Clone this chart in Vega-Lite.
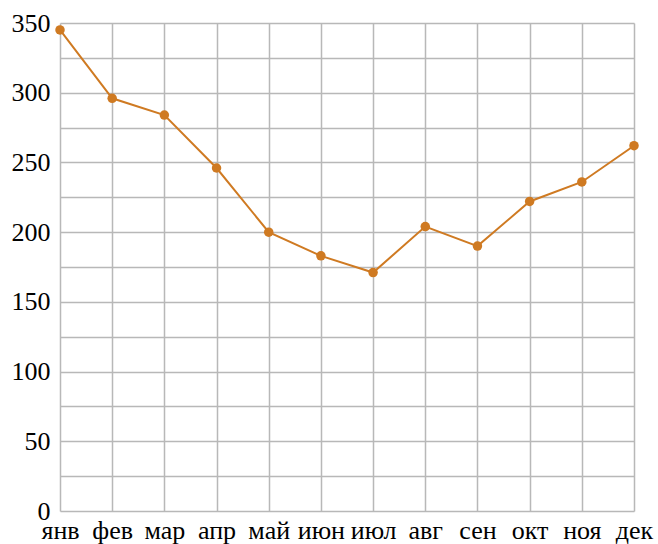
{
  "$schema": "https://vega.github.io/schema/vega-lite/v6.json",
  "autosize": {"type": "none"},
  "padding": {"left": 60, "top": 23, "right": 24, "bottom": 33},
  "width": 574,
  "height": 488,
  "background": "white",
  "config": {
    "view": {"stroke": null},
    "axis": {
      "labelFont": "Liberation Serif",
      "labelFontSize": 26,
      "labelColor": "#000000",
      "gridColor": "#b8b8b8",
      "gridWidth": 1.5,
      "gridOpacity": 1,
      "domain": false,
      "ticks": false,
      "title": null
    }
  },
  "data": {
    "values": [
      {"month": "янв", "value": 345},
      {"month": "фев", "value": 296},
      {"month": "мар", "value": 284},
      {"month": "апр", "value": 246},
      {"month": "май", "value": 200},
      {"month": "июн", "value": 183},
      {"month": "июл", "value": 171},
      {"month": "авг", "value": 204},
      {"month": "сен", "value": 190},
      {"month": "окт", "value": 222},
      {"month": "ноя", "value": 236},
      {"month": "дек", "value": 262}
    ]
  },
  "encoding": {
    "x": {
      "field": "month",
      "type": "ordinal",
      "sort": null,
      "scale": {"type": "point", "padding": 0},
      "axis": {"grid": true, "labelAngle": 0, "labelPadding": 6, "labelBaseline": "top", "labelFont": "Liberation Serif", "labelFontSize": 26}
    },
    "y": {
      "field": "value",
      "type": "quantitative",
      "scale": {"domain": [0, 350], "nice": false, "zero": true},
      "axis": {
        "grid": true,
        "values": [0, 25, 50, 75, 100, 125, 150, 175, 200, 225, 250, 275, 300, 325, 350],
        "labelExpr": "datum.value % 50 == 0 ? datum.label : ''",
        "labelPadding": 10,
        "labelFont": "Liberation Serif",
        "labelFontSize": 26
      }
    }
  },
  "layer": [
    {"mark": {"type": "line", "color": "#cf7a22", "strokeWidth": 2}},
    {"mark": {"type": "point", "filled": true, "color": "#cf7a22", "opacity": 1, "size": 90}}
  ]
}
